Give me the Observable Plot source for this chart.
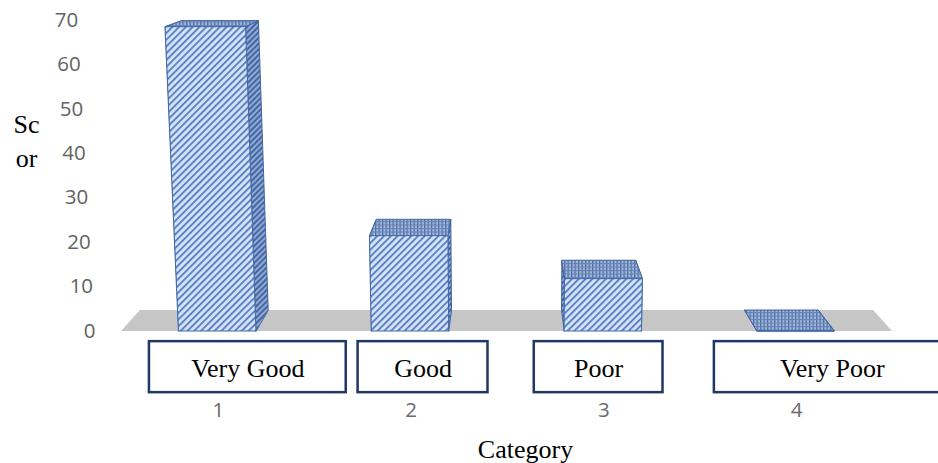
<!DOCTYPE html>
<html>
<head>
<meta charset="utf-8">
<script src="https://cdn.jsdelivr.net/npm/d3@7"></script>
<script src="https://cdn.jsdelivr.net/npm/@observablehq/plot@0.6"></script>
<style>
  html, body { margin: 0; padding: 0; background: #fff; }
</style>
</head>
<body>
<div id="chart"></div>
<script>
// Survey results by rating category
const categories = ["Very Good", "Good", "Poor", "Very Poor"];
const categoryNumbers = [1, 2, 3, 4];
const scores = [68.6, 21.5, 11.8, 0];
const yTicks = [0, 10, 20, 30, 40, 50, 60, 70];
const yTitle = "Sc\nor";
const xTitle = "Category";

// Placement of the boxed category names (category units), and box height (score units)
const labelBoxes = [
  {cx: 1.158, w: 1.021},
  {cx: 2.067, w: 0.674},
  {cx: 2.978, w: 0.668},
  {cx: 4.19, w: 1.223}
];
const BOX_TOP = -2.4, BOX_BOTTOM = -13.9, BOX_TEXT = -8.6;

// Simple perspective for the 3-D column look, in data units:
// depth d runs from 0 (front) to 1 (back); the back plane shrinks toward (VX, VY)
// and verticals lean slightly toward the centre as they rise.
const VX = 2.5, VY = 96.6, BACK = 0.951, TAPER = 0.0006, HALF = 0.2, AXIS_X = 0.368;
function project(x, y, d) {
  const s = 1 - d * (1 - BACK);
  const xt = VX + (x - VX) * (1 + TAPER * y);
  return {x: VX + (xt - VX) * s, y: VY + (y - VY) * s};
}

function polygon(list, id, corners) {
  for (const [x, y, d] of corners) list.push({id, ...project(x, y, d)});
}

const floor = [];
polygon(floor, "floor", [[0.5, 0, 0], [4.5, 0, 0], [4.5, 0, 1], [0.5, 0, 1]]);

const sides = [], tops = [], fronts = [];
categoryNumbers.forEach((c, i) => {
  const v = scores[i], x0 = c - HALF, x1 = c + HALF;
  polygon(sides, c + "L", [[x0, 0, 0], [x0, v, 0], [x0, v, 1], [x0, 0, 1]]);
  polygon(sides, c + "R", [[x1, 0, 0], [x1, v, 0], [x1, v, 1], [x1, 0, 1]]);
  polygon(tops, c, [[x0, v, 0], [x1, v, 0], [x1, v, 1], [x0, v, 1]]);
  polygon(fronts, c, [[x0, 0, 0], [x1, 0, 0], [x1, v, 0], [x0, v, 0]]);
});

const tickLabels = yTicks.map((t) => ({label: String(t), ...project(AXIS_X, t, 0)}));
const boxes = categories.map((name, i) => ({
  name,
  x1: labelBoxes[i].cx - labelBoxes[i].w / 2,
  x2: labelBoxes[i].cx + labelBoxes[i].w / 2,
  cx: labelBoxes[i].cx
}));

const faceOpts = (fill, stroke) => ({
  x: "x", y: "y", z: "id", fill, stroke, strokeWidth: 1, curve: "linear-closed"
});

const svg = Plot.plot({
  width: 938,
  height: 463,
  marginLeft: 120.5,
  marginRight: 46.5,
  marginTop: 20,
  marginBottom: 132.5,
  x: {type: "linear", domain: [0.5, 4.5], axis: null},
  y: {domain: [0, 70], axis: null},
  style: {background: "#fff", overflow: "visible"},
  marks: [
    Plot.line(floor, faceOpts("#c6c6c6", "none")),
    Plot.line(sides, faceOpts("url(#barSide)", "#42659f")),
    Plot.line(tops, faceOpts("url(#barTop)", "#42659f")),
    Plot.line(fronts, faceOpts("url(#barFront)", "#4369a8")),
    // y tick labels
    Plot.text(tickLabels, {
      x: "x", y: "y", text: "label", textAnchor: "end", lineAnchor: "middle",
      fontFamily: "'Open Sans', sans-serif", fontSize: 20.5, fill: "#636363"
    }),
    // category numbers
    Plot.text(categoryNumbers, {
      x: (d) => d, frameAnchor: "bottom", lineAnchor: "middle", dx: 1, dy: 79,
      text: (d) => String(d),
      fontFamily: "'Open Sans', sans-serif", fontSize: 20.5, fill: "#6a6a6a"
    }),
    // boxed category names
    Plot.rect(boxes, {
      x1: "x1", x2: "x2", y1: BOX_TOP, y2: BOX_BOTTOM,
      fill: "#fff", stroke: "#203864", strokeWidth: 2.5
    }),
    Plot.text(boxes, {
      x: "cx", y: BOX_TEXT, text: "name", lineAnchor: "middle",
      fontFamily: "'Liberation Serif', 'Times New Roman', serif", fontSize: 26, fill: "#000"
    }),
    // axis titles
    Plot.text([yTitle], {
      frameAnchor: "left", textAnchor: "middle", lineAnchor: "middle", lineHeight: 1.31,
      dx: -94.5, dy: -36.2,
      fontFamily: "'Liberation Serif', 'Times New Roman', serif", fontSize: 26, fill: "#000"
    }),
    Plot.text([xTitle], {
      frameAnchor: "bottom", lineAnchor: "middle", dx: 19, dy: 118.2,
      fontFamily: "'Liberation Serif', 'Times New Roman', serif", fontSize: 26, fill: "#000"
    })
  ]
});

// Hatch fills for the column faces
const defs = d3.select(svg).insert("defs", ":first-child");
function stripes(id, bg, fg, size, width, angle) {
  const p = defs.append("pattern")
    .attr("id", id).attr("patternUnits", "userSpaceOnUse")
    .attr("width", size).attr("height", size)
    .attr("patternTransform", `rotate(${angle})`);
  p.append("rect").attr("width", size).attr("height", size).attr("fill", bg);
  p.append("rect").attr("width", width).attr("height", size).attr("fill", fg);
}
stripes("barFront", "#d6e4f7", "#5f84c6", 4.8, 2, 45);
stripes("barSide", "#8fa9d8", "#45669f", 4, 2, 45);
{
  const p = defs.append("pattern")
    .attr("id", "barTop").attr("patternUnits", "userSpaceOnUse")
    .attr("width", 3.5).attr("height", 3.5);
  p.append("rect").attr("width", 3.5).attr("height", 3.5).attr("fill", "#a3badf");
  p.append("rect").attr("width", 1.3).attr("height", 3.5).attr("fill", "#4d6c9d");
  p.append("rect").attr("width", 3.5).attr("height", 1.1).attr("fill", "#6783b6");
}

document.getElementById("chart").appendChild(svg);
</script>
</body>
</html>
